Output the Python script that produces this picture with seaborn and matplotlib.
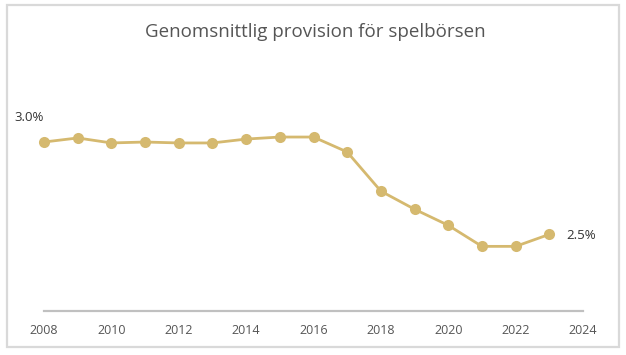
import matplotlib
matplotlib.use("Agg")
import matplotlib.pyplot as plt
import seaborn as sns
import pandas as pd
from matplotlib.patches import Rectangle

years = [2008, 2009, 2010, 2011, 2012, 2013, 2014, 2015, 2016, 2017, 2018, 2019, 2020, 2021, 2022, 2023]
commission = [3.00, 3.022, 2.995, 3.00, 2.995, 2.995, 3.016, 3.027, 3.027, 2.946, 2.734, 2.636, 2.549, 2.435, 2.435, 2.50]
xticks = [2008, 2010, 2012, 2014, 2016, 2018, 2020, 2022, 2024]
title = "Genomsnittlig provision för spelbörsen"

sns.set_theme(style="white")
plt.rcParams['font.family'] = ['Open Sans', 'DejaVu Sans']

df = pd.DataFrame({"year": years, "value": commission})
gold = "#D5B96F"
textc = "#555555"

W, H = 626, 355
fig = plt.figure(figsize=(W / 100, H / 100), dpi=100)
ax = fig.add_axes([44 / W, 1 - 311 / H, (583 - 44) / W, (311 - 70) / H])

sns.lineplot(data=df, x="year", y="value", ax=ax, color=gold, linewidth=2.0,
             marker="o", markersize=8, markeredgewidth=0, markerfacecolor=gold,
             clip_on=False)

ax.set_xlim(2008, 2024)
ax.set_ylim(2.085, 3.39)
ax.set_xticks(xticks)
ax.set_xticklabels([str(t) for t in xticks], fontsize=9, color=textc)
ax.tick_params(axis="x", length=0, pad=9)
ax.set_yticks([])
ax.set_xlabel("")
ax.set_ylabel("")
for s in ["top", "left", "right"]:
    ax.spines[s].set_visible(False)
ax.spines["bottom"].set_color("#c0c0c0")
ax.spines["bottom"].set_linewidth(1.6)

ax.annotate(f"{commission[0]:.1f}%", (years[0], commission[0]), xytext=(-11, 18),
            textcoords="offset points", ha="center", va="center", fontsize=9.5, color="#333333")
ax.annotate(f"{commission[-1]:.1f}%", (years[-1], commission[-1]), xytext=(23, -1),
            textcoords="offset points", ha="center", va="center", fontsize=9.5, color="#333333")

fig.text(315 / W, 1 - 32 / H, title, ha="center", va="center", fontsize=13.5, color=textc)

fig.patches.append(Rectangle((7 / W, 1 - 347 / H), (619 - 7) / W, (347 - 5) / H,
                             transform=fig.transFigure, fill=False, edgecolor="#d9d9d9",
                             linewidth=1.6))

fig.savefig("out.png", dpi=100)
